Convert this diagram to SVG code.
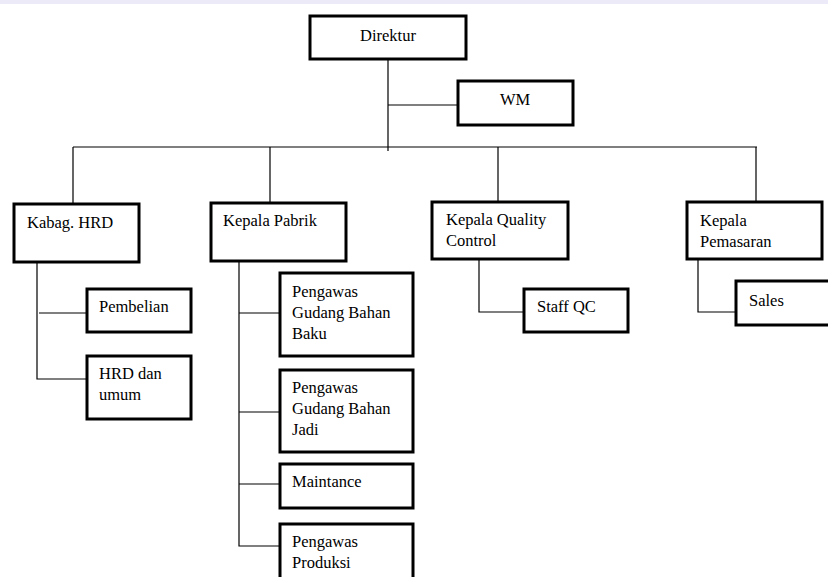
<svg xmlns="http://www.w3.org/2000/svg" width="828" height="577" viewBox="0 0 828 577">
<style>
.box{fill:#fff;stroke:#000;stroke-width:3}
.ln{fill:none;stroke:#000;stroke-width:1.2}
text{font-family:"Liberation Serif","Times New Roman",serif;font-size:16.5px;fill:#000}
</style>
<rect x="0" y="0" width="828" height="577" fill="#fff"/>
<rect x="0" y="0" width="828" height="4" fill="#eceaf8"/>
<g id="connectors">
<path class="ln" d="M388 59V151M388 105H458M73 147H757M73 147V204M270 147V203M498 147V202M756 147V202"/>
<path class="ln" d="M37 262V379H87M39 313H87"/>
<path class="ln" d="M239 261V546H280M239 313H280M239 412H280M239 484H280"/>
<path class="ln" d="M479 259V312H524"/>
<path class="ln" d="M698 259V312H736"/>
</g>
<g id="direktur"><rect class="box" x="310" y="16" width="156" height="43"/><text x="388" y="41" text-anchor="middle">Direktur</text></g>
<g id="wm"><rect class="box" x="458" y="81" width="115" height="44"/><text x="515" y="105" text-anchor="middle">WM</text></g>
<g id="kabag-hrd"><rect class="box" x="14" y="204" width="125" height="58"/><text x="27" y="228">Kabag. HRD</text></g>
<g id="kepala-pabrik"><rect class="box" x="211" y="203" width="135" height="58"/><text x="223" y="226">Kepala Pabrik</text></g>
<g id="kepala-qc"><rect class="box" x="432" y="202" width="136" height="57"/><text x="446" y="225">Kepala Quality</text><text x="446" y="246">Control</text></g>
<g id="kepala-pemasaran"><rect class="box" x="687" y="202" width="135" height="57"/><text x="700" y="226">Kepala</text><text x="700" y="247">Pemasaran</text></g>
<g id="pembelian"><rect class="box" x="87" y="289" width="104" height="43"/><text x="99" y="312">Pembelian</text></g>
<g id="hrd-umum"><rect class="box" x="87" y="356" width="104" height="63"/><text x="99" y="379">HRD dan</text><text x="99" y="400">umum</text></g>
<g id="pengawas-baku"><rect class="box" x="280" y="273" width="133" height="83"/><text x="292" y="297">Pengawas</text><text x="292" y="318">Gudang Bahan</text><text x="292" y="339">Baku</text></g>
<g id="pengawas-jadi"><rect class="box" x="280" y="370" width="133" height="82"/><text x="292" y="393">Pengawas</text><text x="292" y="414">Gudang Bahan</text><text x="292" y="435">Jadi</text></g>
<g id="maintance"><rect class="box" x="280" y="464" width="133" height="44"/><text x="292" y="487">Maintance</text></g>
<g id="pengawas-produksi"><rect class="box" x="280" y="524" width="133" height="60"/><text x="292" y="547">Pengawas</text><text x="292" y="568">Produksi</text></g>
<g id="staff-qc"><rect class="box" x="524" y="289" width="104" height="43"/><text x="537" y="312">Staff QC</text></g>
<g id="sales"><rect class="box" x="736" y="281" width="100" height="44"/><text x="749" y="306">Sales</text></g>
</svg>
